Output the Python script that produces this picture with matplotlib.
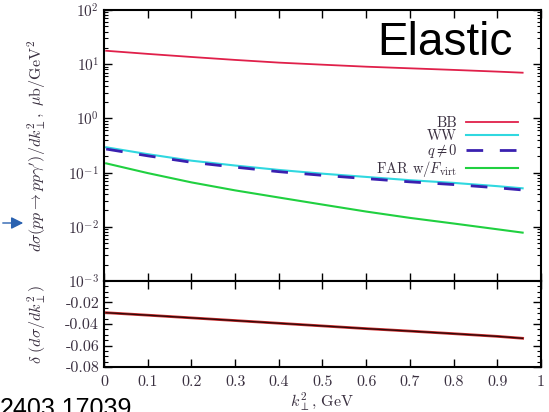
import numpy as np
import matplotlib
matplotlib.use("Agg")
import matplotlib.pyplot as plt
from matplotlib.ticker import MultipleLocator, LogLocator, NullFormatter

plt.rcParams['mathtext.fontset'] = 'cm'
plt.rcParams['font.family'] = ['cmr10', 'DejaVu Serif']
plt.rcParams['axes.unicode_minus'] = False
plt.rcParams['axes.formatter.use_mathtext'] = True

# Données
k2 = [0.005, 0.1, 0.2, 0.3, 0.4, 0.5, 0.6, 0.7, 0.8, 0.9, 0.958]
bb = [17.7, 15.5, 13.6, 12.0, 10.7, 9.8, 9.0, 8.4, 7.85, 7.3, 6.97]
ww = [0.293, 0.219, 0.166, 0.135, 0.112, 0.0955, 0.0832, 0.0724, 0.0646, 0.0562, 0.0513]
qn0 = [0.272, 0.204, 0.155, 0.126, 0.104, 0.089, 0.0775, 0.0675, 0.0602, 0.0524, 0.0478]
far = [0.148, 0.098, 0.066, 0.047, 0.0347, 0.0257, 0.0191, 0.0146, 0.0115, 0.0090, 0.0078]
delta = [-0.0295, -0.0318, -0.0343, -0.0368, -0.0393, -0.0418, -0.0443, -0.0466, -0.049, -0.0515, -0.0533]

xticks = [0, 0.1, 0.2, 0.3, 0.4, 0.5, 0.6, 0.7, 0.8, 0.9, 1]
xlabels = ['0', '0.1', '0.2', '0.3', '0.4', '0.5', '0.6', '0.7', '0.8', '0.9', '1']
dticks = [-0.02, -0.04, -0.06, -0.08]
dlabels = ['-0.02', '-0.04', '-0.06', '-0.08']

tick_col = '#3a3040'

fig = plt.figure(figsize=(5.49, 4.12), dpi=100)
ax = fig.add_axes([0.1894, 0.318, 0.796, 0.6577])
ax2 = fig.add_axes([0.1894, 0.1092, 0.796, 0.2088])

# Panneau du haut
ax.plot(k2, bb, '-', lw=1.3, c='#e0204a', label='BB')
ax.plot(k2, ww, '-', lw=1.5, c='#30d8e0', label='WW')
ax.plot(k2, qn0, '--', lw=2.0, c='#3a20b0', dashes=(6, 6), label=r'$q\neq0$')
ax.plot(k2, far, '-', lw=1.5, c='#20d040', label=r'FAR w/$F_{\rm virt}$')

ax.set_yscale('log')
ax.set_ylim(1e-3, 1e2)
ax.set_xlim(0, 1)
ax.set_xticks(xticks)
ax.set_xticklabels([])
ax.yaxis.set_major_locator(LogLocator(base=10, numticks=10))
ax.yaxis.set_minor_locator(LogLocator(base=10, subs=np.arange(2, 10), numticks=20))
ax.yaxis.set_minor_formatter(NullFormatter())
ax.tick_params(which='both', direction='in', top=True, right=True, labelsize=11, colors='black', labelcolor=tick_col)
ax.tick_params(which='major', length=6, width=1)
ax.tick_params(which='minor', length=3, width=0.8)
ax.set_ylabel(r'$d\sigma(pp\rightarrow pp\gamma^{\prime})/dk_{\perp}^{2},\ \mu{\rm b}/{\rm GeV}^2$',
              fontsize=11.5, color=tick_col)
ax.yaxis.set_label_coords(-0.128, 0.5)

leg = ax.legend(loc='upper right', bbox_to_anchor=(0.965, 0.635), frameon=False,
                markerfirst=False, handlelength=3.6, labelspacing=-0.05,
                handletextpad=0.6, borderpad=0, fontsize=10.5)
for t in leg.get_texts():
    t.set_color(tick_col)
    t.set_ha('right')

ax.text(0.935, 0.88, 'Elastic', transform=ax.transAxes, ha='right', va='center',
        fontsize=33, family='Liberation Sans', color='black')

# Panneau du bas
ax2.plot(k2, delta, '-', lw=2.0, c='#d03030')
ax2.plot(k2, delta, '-', lw=1.0, c='#300808')
ax2.set_xlim(0, 1)
ax2.set_ylim(-0.08, 0)
ax2.set_xticks(xticks)
ax2.set_xticklabels(xlabels)
ax2.set_yticks(dticks)
ax2.set_yticklabels(dlabels)
ax2.yaxis.set_minor_locator(MultipleLocator(0.005))
ax2.tick_params(which='both', direction='in', top=True, right=True, labelsize=11.5, labelcolor=tick_col)
ax2.tick_params(which='major', length=6, width=1)
ax2.tick_params(which='minor', length=3, width=0.8)
ax2.tick_params(axis='x', pad=6)
ax2.set_ylabel(r'$\delta\ (d\sigma/dk_{\perp}^{2})$', fontsize=11.5, color=tick_col)
ax2.yaxis.set_label_coords(-0.128, 0.5)
ax2.set_xlabel(r'$k_{\perp}^{2}$, GeV', fontsize=11.5, color=tick_col, labelpad=1)

for a in (ax, ax2):
    for s in a.spines.values():
        s.set_linewidth(1.5)

# Annotations ajoutées sur la capture
fig.add_artist(matplotlib.patches.FancyArrowPatch((0.0, 1 - 223 / 412), (26 / 549, 1 - 223 / 412),
               transform=fig.transFigure, arrowstyle='-|>', mutation_scale=18,
               color='#2a62b0', lw=1.0))
fig.text(0.0, 1 - 397 / 412, '2403.17039', ha='left', va='top', fontsize=18,
         family='Liberation Sans', color='black')

fig.savefig('out.png', dpi=100)
